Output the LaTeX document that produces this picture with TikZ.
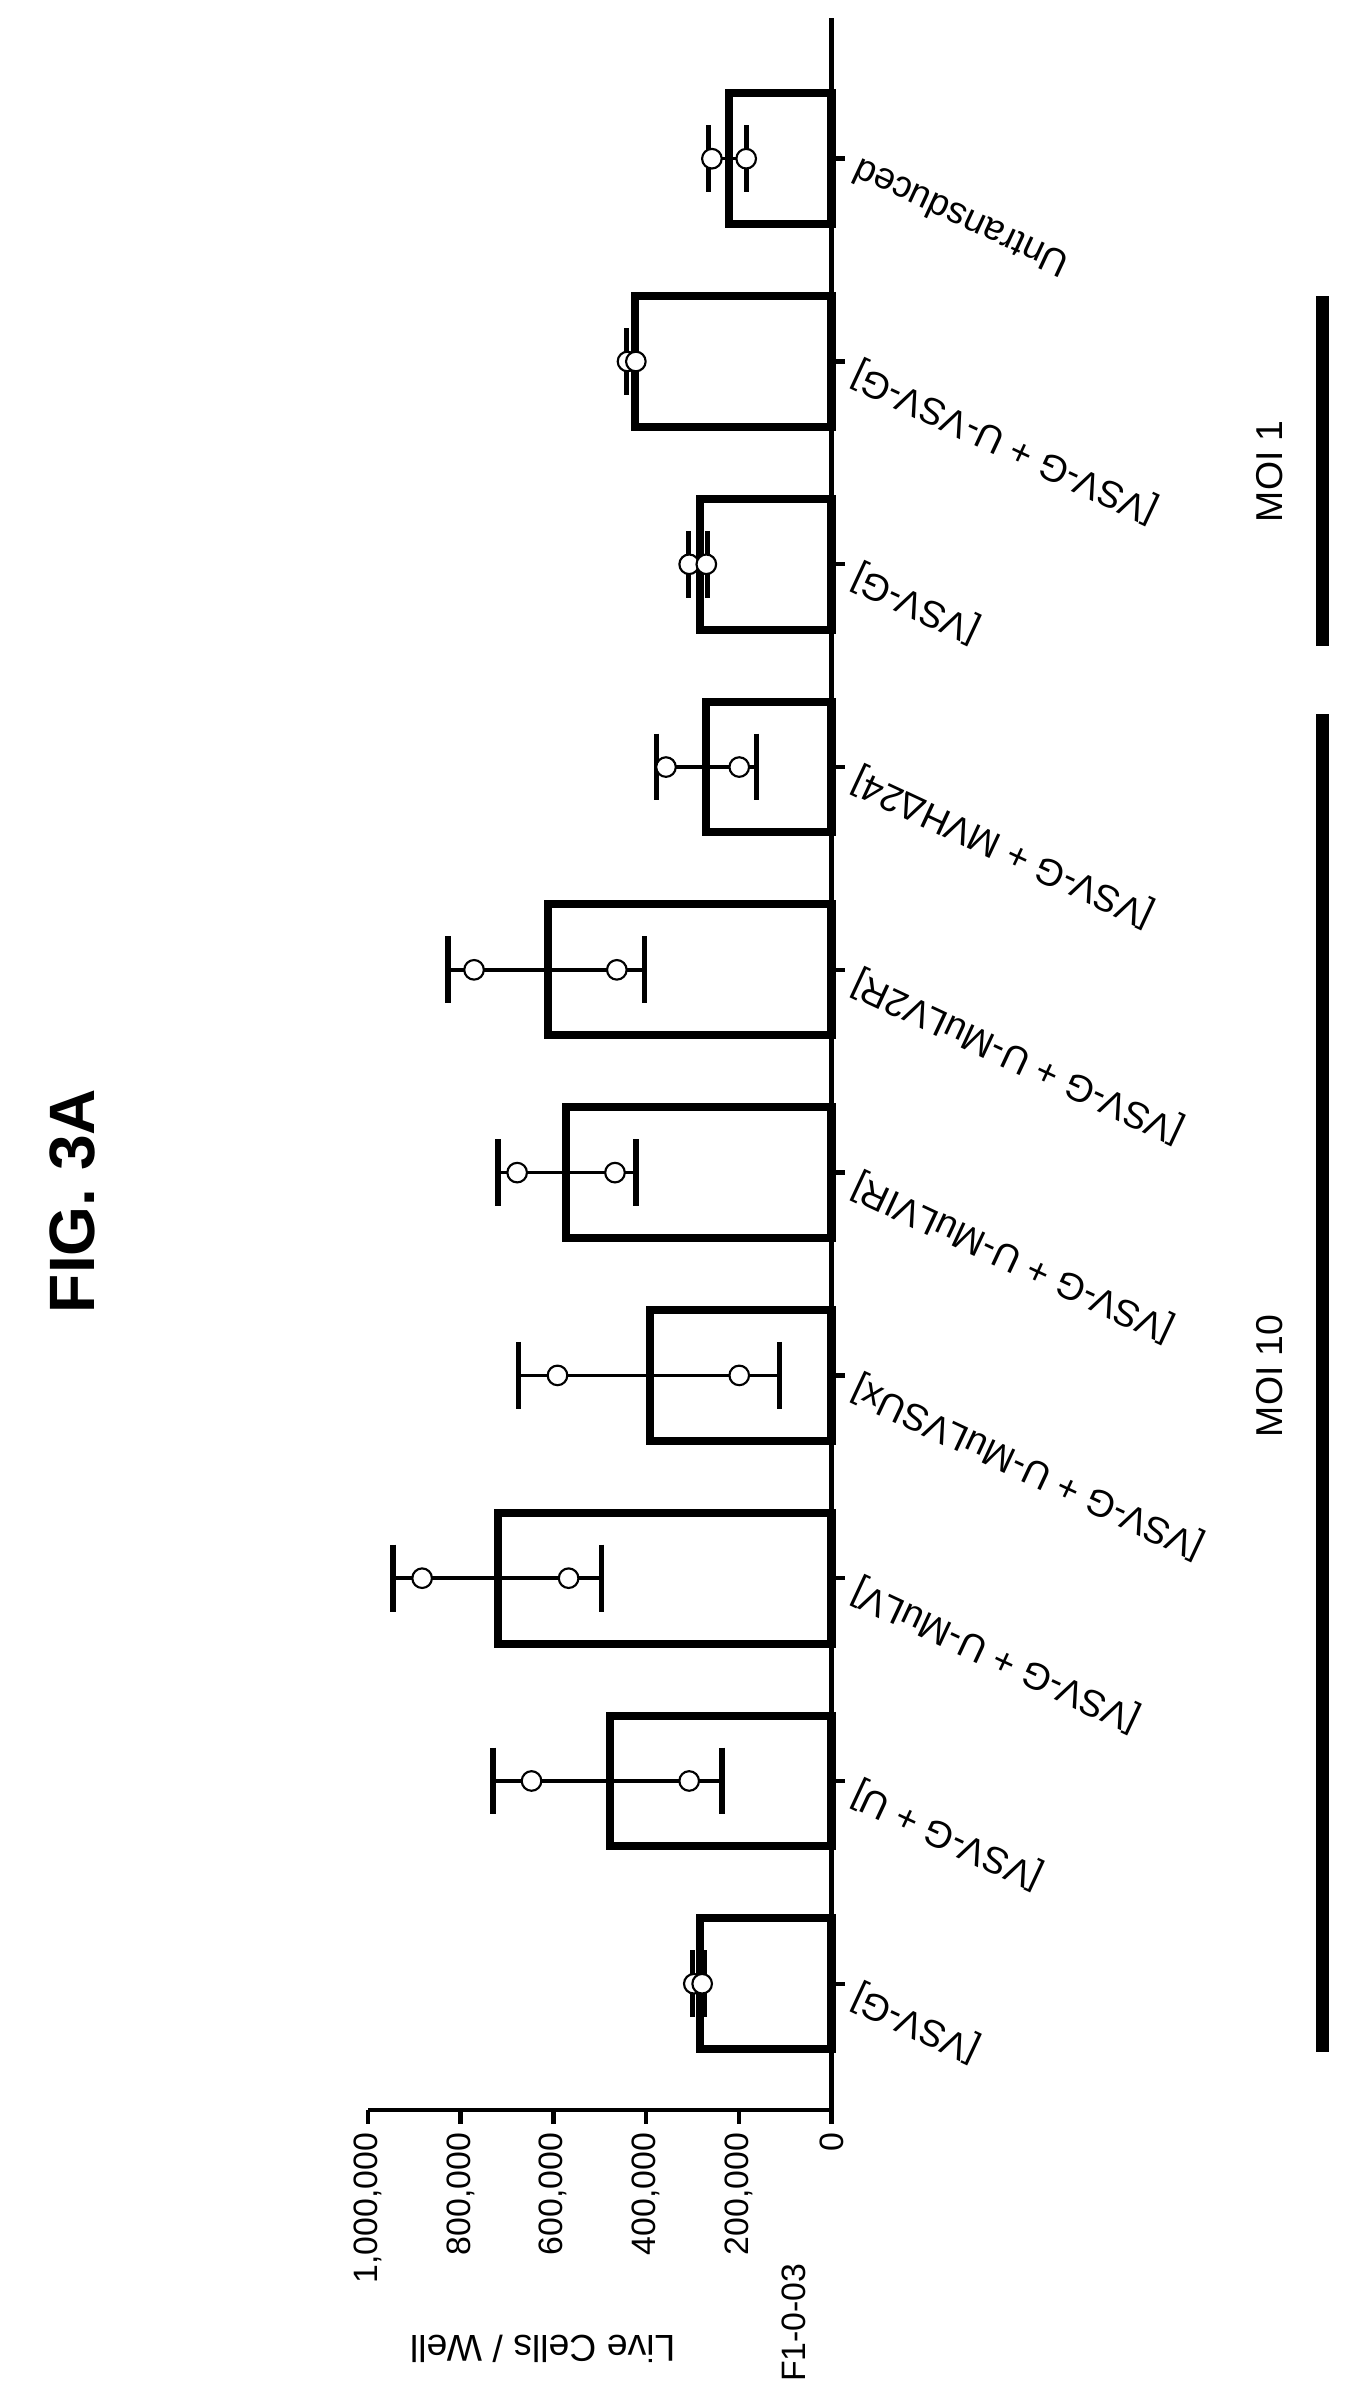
\documentclass[tikz,border=0pt]{standalone}
\usepackage{fontspec}
\setmainfont{Liberation Sans}
\begin{document}
\begin{tikzpicture}[x=0.03cm,y=0.03cm,
  bar/.style={draw=black,line width=4.5pt},
  errbar/.style={line width=2pt},
  errcap/.style={line width=3pt},
  dot/.style={draw=black,fill=white,line width=1.2pt,circle,inner sep=0pt,minimum size=11pt},
  catlabel/.style={rotate=155,anchor=east,font=\fontsize{21}{24}\selectfont,inner sep=2pt},
  ticklabel/.style={rotate=90,anchor=east,font=\fontsize{19}{22}\selectfont,inner sep=0pt}]
\useasboundingbox (0,0) rectangle (890,-1567);

% axes
\coordinate (origin) at (547,-1388);
\coordinate (ytop) at (547,-12);
\coordinate (xend) at (242,-1388);
\draw[line width=2.5pt] (ytop) -- (origin) -- (xend);
\foreach \v/\t in {0/0,200/{200,000},400/{400,000},600/{600,000},800/{800,000},1000/{1,000,000}}{
  \draw[line width=2.5pt] ({547-0.305*\v},-1388) -- ({547-0.305*\v},-1397);
  \node[ticklabel] (t\v) at ({547-0.305*\v},-1403) {\t};
}
\node[rotate=180,font=\fontsize{21}{24}\selectfont] (ylabel) at (357,-1545) {Live Cells / Well};
\node[rotate=90,font=\fontsize{19}{22}\selectfont] (code) at (522,-1528) {F1-0-03};
\node[rotate=90,font=\bfseries\fontsize{36}{42}\selectfont] (title) at (48,-790) {FIG. 3A};

% bars
\foreach \i/\v in {1/284,2/478,3/719,4/392,5/572,6/612,7/270,8/284,9/424,10/221}{
  \draw[bar] (547,{-1305+133.4*(\i-1)+43}) rectangle ({547-0.305*\v},{-1305+133.4*(\i-1)-43});
  \draw[line width=2.5pt] (547,{-1305+133.4*(\i-1)}) -- (556,{-1305+133.4*(\i-1)});
}

% error bars
\foreach \i/\lo/\hi in {1/275/300,2/236/730,3/496/946,4/112/675,5/422/719,6/403/827,7/162/377,8/268/308,9/420/442,10/184/266}{
  \draw[errbar] ({547-0.305*\lo},{-1305+133.4*(\i-1)}) -- ({547-0.305*\hi},{-1305+133.4*(\i-1)});
  \draw[errcap] ({547-0.305*\lo},{-1305+133.4*(\i-1)+22}) -- ({547-0.305*\lo},{-1305+133.4*(\i-1)-22});
  \draw[errcap] ({547-0.305*\hi},{-1305+133.4*(\i-1)+22}) -- ({547-0.305*\hi},{-1305+133.4*(\i-1)-22});
}

% data points
\foreach \i/\a/\b in {1/297/279,2/647/307,3/883/567,4/591/199,5/678/467,6/771/463,7/357/199,8/307/270,9/440/422,10/258/184}{
  \node[dot] (p\i a) at ({547-0.305*\a},{-1305+133.4*(\i-1)}) {};
  \node[dot] (p\i b) at ({547-0.305*\b},{-1305+133.4*(\i-1)}) {};
}

% category labels
\foreach \i/\t in {1/{[VSV-G]},2/{[VSV-G + U]},3/{[VSV-G + U-MuLV]},4/{[VSV-G + U-MuLVSUx]},5/{[VSV-G + U-MuLVIR]},6/{[VSV-G + U-MuLV2R]},7/{[VSV-G + MVHΔ24]},8/{[VSV-G]},9/{[VSV-G + U-VSV-G]},10/{Untransduced}}{
  \node[catlabel] (c\i) at (560,{-1305+133.4*(\i-1)-6}) {\t};
}

% groups
\draw[line width=7pt] (870,-470) -- (870,-1350);
\draw[line width=7pt] (870,-195) -- (870,-425);
\node[rotate=90,font=\fontsize{21}{24}\selectfont] (moi10) at (835,-905) {MOI 10};
\node[rotate=90,font=\fontsize{21}{24}\selectfont] (moi1) at (835,-310) {MOI 1};
\end{tikzpicture}
\end{document}
